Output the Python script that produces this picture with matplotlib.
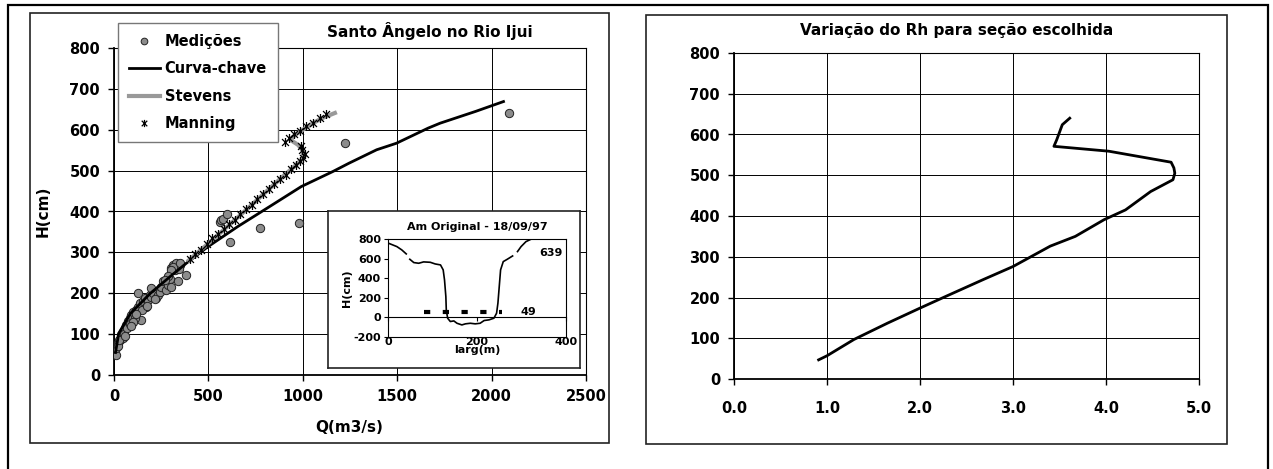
import numpy as np
import matplotlib
matplotlib.use("Agg")
import matplotlib.pyplot as plt
from matplotlib.path import Path
from matplotlib.patches import Rectangle
from matplotlib.ticker import FormatStrFormatter

plt.rcParams['font.family'] = ['DejaVu Sans']
plt.rcParams['font.weight'] = 'bold'
plt.rcParams['axes.unicode_minus'] = False

# --- data: Santo Angelo no Rio Ijui ---
med_q = [13, 13, 21, 30, 39, 48, 48, 57, 66, 74, 83, 92, 101, 119, 127, 136, 145, 127,
         154, 163, 172, 180, 189, 198, 207, 224, 233, 242, 198, 251, 260, 277, 286, 295,
         304, 339, 304, 313, 330, 348, 321, 344, 383, 312, 348, 304, 286, 268, 20, 35,
         55, 70, 85, 110, 100, 150, 175, 215, 25, 60, 90, 115,
         560, 569, 578, 598, 612, 775, 980, 1221, 2090]
med_h = [49, 65, 78, 86, 94, 90, 106, 114, 122, 131, 139, 147, 155, 159, 167, 175, 135, 200,
         180, 188, 167, 184, 196, 192, 200, 188, 196, 204, 212, 216, 229, 208, 220, 234,
         216, 229, 261, 269, 273, 269, 257, 259, 245, 264, 274, 257, 241, 233, 70, 98,
         100, 115, 125, 140, 130, 160, 170, 185, 85, 95, 120, 150,
         375, 378, 381, 394, 325, 359, 371, 567, 640]

curva_q = [8, 25, 88, 193, 298, 382, 498, 655, 824, 992, 1160, 1244, 1391, 1496, 1664, 1727, 1916, 2063]
curva_h = [55, 102, 151, 200, 241, 273, 314, 363, 412, 461, 498, 518, 551, 567, 604, 616, 645, 669]

stevens_q = [395, 500, 600, 700, 800, 900, 960, 1000, 1002, 975, 935, 960, 1000, 1050, 1100, 1170]
stevens_h = [280, 322, 363, 404, 446, 488, 512, 530, 548, 563, 575, 588, 600, 615, 628, 641]

manning_q = [400, 430, 460, 490, 520, 550, 580, 610, 640, 670, 700, 730, 760, 790, 820, 850,
             880, 910, 940, 965, 985, 1000, 1012, 998, 988, 905, 925, 955, 985, 1018, 1054,
             1089, 1124]
manning_h = [283, 296, 307, 320, 334, 344, 357, 370, 380, 393, 406, 417, 430, 443, 454, 467,
             479, 490, 503, 514, 523, 531, 541, 551, 560, 570, 580, 589, 598, 608, 616,
             629, 639]

# cross section (inset)
secao_x = [1.5, 20, 31, 41, np.nan, 49, 58, 69, 80, 95, 106, 118, 124, 127, 130, 131, 134,
           140, 148, 155, 166, 174, 185, 196, 207, 216, 227, 238, 244, 247, 250, 253, 259,
           268, 280, np.nan, 291, 299, 310, 321]
secao_h = [759, 725, 691, 650, np.nan, 595, 561, 554, 568, 564, 547, 537, 486, 383, 212, 75, -10,
           -44, -38, -62, -79, -68, -62, -68, -62, -34, -27, -10, 41, 144, 315, 486, 571,
           595, 629, np.nan, 674, 725, 776, 800]
nivel_x = [82, 256]
nivel_h = [49, 49]

# --- data: variacao do Rh ---
rh = [0.91, 1.0, 1.29, 1.65, 2.0, 2.28, 2.68, 3.0, 3.40, 3.67, 3.98, 4.21, 4.48, 4.72,
      4.74, 4.73, 4.70, 4.03, 3.44, 3.47, 3.53, 3.61]
rh_h = [47, 57, 97, 137, 174, 203, 244, 276, 326, 350, 391, 415, 460, 489,
        505, 518, 532, 559, 571, 587, 624, 640]

W, H = 1273, 469


def box(x0, y0, x1, y1):
    return [x0 / W, 1 - y1 / H, (x1 - x0) / W, (y1 - y0) / H]


fig = plt.figure(figsize=(12.73, 4.69), dpi=100)

# outer frame (no bottom edge visible)
fig.add_artist(Rectangle((8 / W, -0.1), (1268 - 8) / W, 1.1 - 5 / H, fill=False,
                         lw=1.6, ec='black', transform=fig.transFigure))
# panel boxes
fig.add_artist(Rectangle((30 / W, 1 - 443 / H), (609 - 30) / W, (443 - 13) / H, fill=False,
                         lw=1.2, ec='#222', transform=fig.transFigure))
fig.add_artist(Rectangle((646 / W, 1 - 444 / H), (1227 - 646) / W, (444 - 15) / H, fill=False,
                         lw=1.2, ec='#222', transform=fig.transFigure))

star = Path([(-1, -1), (1, 1), (-1, 1), (1, -1), (0, -1.3), (0, 1.3)],
            [Path.MOVETO, Path.LINETO, Path.MOVETO, Path.LINETO, Path.MOVETO, Path.LINETO])


def style_axes(a, size=10.5):
    a.grid(True, color='black', lw=0.7)
    a.set_axisbelow(True)
    for s in ['left', 'bottom']:
        a.spines[s].set_linewidth(1.3)
    for s in ['top', 'right']:
        a.spines[s].set_linewidth(0.8)
    a.tick_params(direction='out', length=4, width=1, labelsize=size, pad=6)
    for lab in a.get_xticklabels() + a.get_yticklabels():
        lab.set_fontweight('bold')


# --- left chart ---
ax = fig.add_axes(box(114, 48, 586, 375))
ax.plot(med_q, med_h, 'o', ms=6, mfc='#8c8c8c', mec='#222', mew=0.7,
        label='Medições', zorder=3)
ax.plot(curva_q, curva_h, color='black', lw=2, label='Curva-chave', zorder=4)
ax.plot(stevens_q, stevens_h, color='#999999', lw=3, label='Stevens', zorder=5)
ax.plot(manning_q, manning_h, ls='none', marker=star, ms=6.5, mec='black', mfc='none',
        mew=0.9, label='Manning', zorder=6)
ax.set_xlim(0, 2500)
ax.set_ylim(0, 800)
ax.set_xticks(range(0, 2501, 500))
ax.set_yticks(range(0, 801, 100))
style_axes(ax)
leg = ax.legend(loc='upper left', bbox_to_anchor=(118 / W, 1 - 23 / H),
                bbox_transform=fig.transFigure, fancybox=False, edgecolor='#777',
                framealpha=1, borderaxespad=0, borderpad=0.75, labelspacing=0.85,
                handlelength=2.1, handletextpad=0.35, numpoints=1, markerscale=0.8,
                prop={'size': 10.5, 'weight': 'bold'})
fig.text(430 / W, 1 - 31 / H, 'Santo Ângelo no Rio Ijui', ha='center', va='center',
         fontsize=11, fontweight='bold')
fig.text(349 / W, 1 - 427 / H, 'Q(m3/s)', ha='center', va='center', fontsize=11,
         fontweight='bold')
fig.text(43 / W, 1 - 211 / H, 'H(cm)', ha='center', va='center', rotation=90,
         fontsize=11, fontweight='bold')

# --- inset ---
axbox = fig.add_axes(box(328, 211, 580, 368))
axbox.set_xticks([])
axbox.set_yticks([])
for s in axbox.spines.values():
    s.set_linewidth(1.2)
    s.set_color('#222')

axin = fig.add_axes(box(388, 239.3, 566, 336.7))
axin.plot(secao_x, secao_h, color='black', lw=1.2)
axin.plot(nivel_x, nivel_h, color='black', lw=3, ls=(0, (1.5, 3.0)))
axin.set_xlim(0, 400)
axin.set_ylim(-200, 800)
axin.set_xticks([0, 200, 400])
axin.set_yticks(range(-200, 801, 200))
for s in axin.spines.values():
    s.set_linewidth(0.8)
axin.tick_params(axis='y', direction='out', length=3, labelsize=8, pad=2)
axin.tick_params(axis='x', length=0, labelsize=8, pad=0)
for lab in axin.get_xticklabels() + axin.get_yticklabels():
    lab.set_fontweight('bold')
sec = axin.secondary_xaxis(0.2)
sec.set_xticks([0, 200, 400])
sec.tick_params(axis='x', direction='out', length=3, labelbottom=False)
sec.spines['bottom'].set_linewidth(0.8)
axin.text(366, 656, '639', ha='center', va='center', fontsize=8, fontweight='bold')
axin.text(315, 58, '49', ha='center', va='center', fontsize=8, fontweight='bold')
axin.set_xlabel('larg(m)', fontsize=8, fontweight='bold', labelpad=-1)
axin.set_ylabel('H(cm)', fontsize=8, fontweight='bold', labelpad=1)
axin.set_title('Am Original - 18/09/97', fontsize=8, fontweight='bold', pad=7)

# --- right chart ---
ax2 = fig.add_axes(box(734, 53, 1199, 379))
ax2.plot(rh, rh_h, color='black', lw=2)
ax2.set_xlim(0, 5)
ax2.set_ylim(0, 800)
ax2.set_xticks(np.arange(0, 5.01, 1.0))
ax2.set_yticks(range(0, 801, 100))
ax2.xaxis.set_major_formatter(FormatStrFormatter('%.1f'))
style_axes(ax2)
ax2.tick_params(axis='x', pad=12)
fig.text(957 / W, 1 - 30 / H, 'Variação do Rh para seção escolhida', ha='center',
         va='center', fontsize=11, fontweight='bold')

fig.savefig('out.png', dpi=100)
